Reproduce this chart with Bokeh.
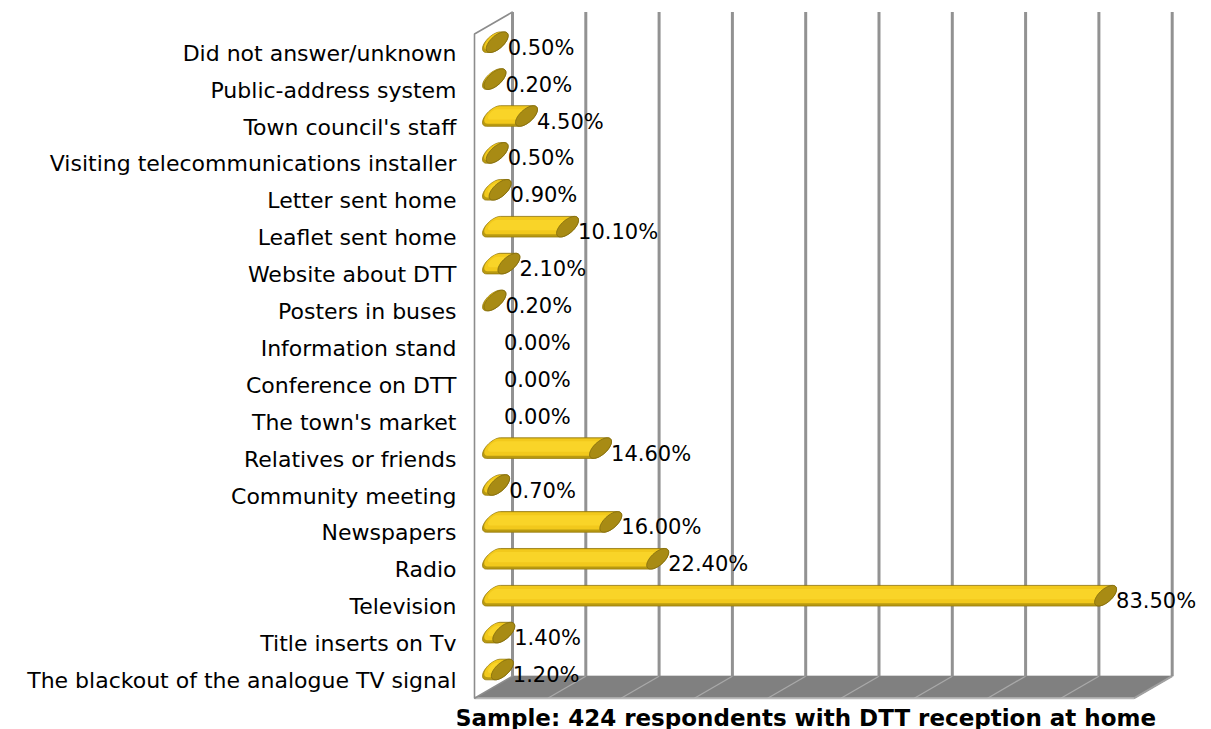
import numpy as np
from bokeh.plotting import figure
from bokeh.models import Range1d, FixedTicker, Label
from bokeh.embed import file_html
from bokeh.resources import INLINE
from bokeh.core.properties import value

# ---------------- data (bottom -> top) ----------------
categories = [
    "The blackout of the analogue TV signal",
    "Title inserts on Tv",
    "Television",
    "Radio",
    "Newspapers",
    "Community meeting",
    "Relatives or friends",
    "The town's market",
    "Conference on DTT",
    "Information stand",
    "Posters in buses",
    "Website about DTT",
    "Leaflet sent home",
    "Letter sent home",
    "Visiting telecommunications installer",
    "Town council's staff",
    "Public-address system",
    "Did not answer/unknown",
]
percent = [1.2, 1.4, 83.5, 22.4, 16.0, 0.7, 14.6, 0.0, 0.0, 0.0,
           0.2, 2.1, 10.1, 0.9, 0.5, 4.5, 0.2, 0.5]
x_ticks = [0, 10, 20, 30, 40, 50, 60, 70, 80, 90]
x_title = "Sample: 424 respondents with DTT reception at home"

# ---------------- layout constants ----------------
W, H = 1211, 729
FRAME_L = 457
PX_X = 7.33      # pixels per percent point
PX_Y = 36.9      # pixels per category
ZERO_PX = 474    # pixel of 0 % on front plane
CAT0_PX = 680    # pixel row of first category

x0 = -(ZERO_PX - FRAME_L) / PX_X
x1 = x0 + (W - FRAME_L) / PX_X
y0 = -(H - CAT0_PX) / PX_Y
y1 = y0 + H / PX_Y

DX = 38 / PX_X          # depth offset (data units)
DY = 22 / PX_Y
Y_BOT = -0.5 - 0.47 / PX_Y * 0  # front floor edge
Y_BOT = -0.48
Y_TOP = len(categories) - 0.5 + 0.02
X_MAX = x_ticks[-1]

p = figure(width=W, height=H, output_backend="svg", toolbar_location=None,
           x_range=Range1d(x0, x1), y_range=Range1d(y0, y1),
           x_axis_location=None, y_axis_location="left",
           min_border_left=FRAME_L, min_border_right=0,
           min_border_top=0, min_border_bottom=0,
           background_fill_color="white", border_fill_color="white",
           outline_line_color=None)
p.grid.visible = False

# ---------------- floor ----------------
p.patch([0, X_MAX, X_MAX + DX, DX], [Y_BOT, Y_BOT, Y_BOT + DY, Y_BOT + DY],
        fill_color="#808080", line_color="#737373", line_width=1)
for t in x_ticks[1:-1]:
    p.line([t, t + DX], [Y_BOT, Y_BOT + DY], line_color="#a9a9a9", line_width=1.3)
p.line([0, X_MAX], [Y_BOT, Y_BOT], line_color="#b8b8b8", line_width=2)
p.line([X_MAX, X_MAX + DX], [Y_BOT, Y_BOT + DY], line_color="#a0a0a0", line_width=2)

# ---------------- left wall ----------------
p.patch([0, 0, DX, DX], [Y_BOT, Y_TOP, Y_TOP + DY, Y_BOT + DY],
        fill_color="white", line_color="#8c8c8c", line_width=1.6)

# ---------------- back wall gridlines ----------------
p.segment(x0=[t + DX for t in x_ticks], y0=[Y_BOT + DY] * len(x_ticks),
          x1=[t + DX for t in x_ticks], y1=[Y_TOP + DY] * len(x_ticks),
          line_color="#929292", line_width=3)

# ---------------- cylinders ----------------
A, R, B = 11.0, 8.0, 6.5   # ellipse shape (px)
TS = np.arctan2(B, R)


def arc(t_a, t_b, s=1.0, n=28):
    t = np.linspace(t_a, t_b, n)
    return (A * s * np.sin(t) / PX_X, (R * np.cos(t) + B * np.sin(t)) * s / PX_Y)


def hull(v, yc, s=1.0, up=0.0):
    lx, ly = arc(TS + np.pi, TS + 2 * np.pi, s)
    rx, ry = arc(TS, TS + np.pi, s)
    xs_ = list(DX / 2 + lx) + list(DX / 2 + v + rx)
    ys_ = list(yc + ly + up / PX_Y) + list(yc + ry + up / PX_Y)
    return xs_, ys_


layers = [(1.0, 0.0, "#b99a10", "#957a0c", 0.8),
          (0.84, 1.0, "#f2c91c", None, 0),
          (0.5, 1.6, "#f9d428", None, 0)]
for s, up, fc, lc, lw in layers:
    xs, ys = [], []
    for i, v in enumerate(percent):
        if v <= 0:
            continue
        hx, hy = hull(v, i + DY / 2, s, up)
        xs.append(hx)
        ys.append(hy)
    p.patches(xs, ys, fill_color=fc, line_color=lc, line_width=lw)

cx, cy = [], []
for i, v in enumerate(percent):
    if v <= 0:
        continue
    ex, ey = arc(0, 2 * np.pi, 1.0, 40)
    cx.append(list(DX / 2 + v + ex))
    cy.append(list(i + DY / 2 + ey))
p.patches(cx, cy, fill_color="#a88b14", line_color="#7f690e", line_width=0.8)

# ---------------- value labels ----------------
p.text(x=[v + DX / 2 for v in percent], y=list(range(len(percent))),
       text=[f"{v:.2f}%" for v in percent],
       text_font=value("DejaVu Sans"), text_font_size="21px",
       text_color="black", text_align="left", text_baseline="middle",
       x_offset=10.5, y_offset=-5.5)

# ---------------- category axis ----------------
ax = p.yaxis[0]
ax.ticker = FixedTicker(ticks=list(range(len(categories))))
ax.major_label_overrides = {i: c for i, c in enumerate(categories)}
ax.major_label_text_font = "DejaVu Sans"
ax.major_label_text_font_size = "22px"
ax.major_label_text_color = "black"
ax.axis_line_color = None
ax.major_tick_line_color = None
ax.minor_tick_line_color = None
ax.major_tick_out = 0
ax.major_tick_in = 0
ax.major_label_standoff = 1

# ---------------- bottom caption ----------------
p.add_layout(Label(x=x0 + (805 - FRAME_L) / PX_X, y=y0 + (H - 717) / PX_Y,
                   text=x_title, text_align="center", text_baseline="middle",
                   text_font="DejaVu Sans", text_font_size="23px",
                   text_font_style="bold", text_color="black"))

open("out.html", "w").write(file_html(p, INLINE))
